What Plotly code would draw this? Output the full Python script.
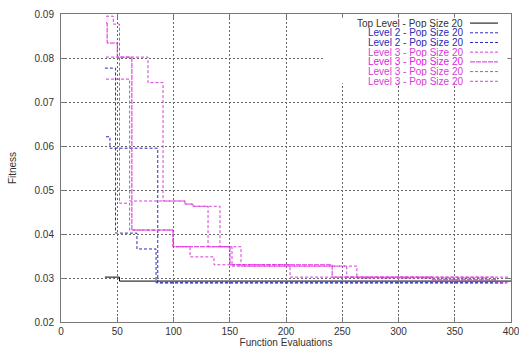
import plotly.graph_objects as go

# ---- data ----
top_x = [39, 52, 400]
top_y = [0.0302, 0.0293, 0.0293]

l2a_x = [40, 43.5, 86, 395]
l2a_y = [0.0621, 0.0595, 0.0289, 0.0289]
l2b_x = [39, 48.5, 67.5, 84.5, 396]
l2b_y = [0.0777, 0.0402, 0.0366, 0.0289, 0.0289]

l3a_x = [40, 46.5, 52, 61, 99.6, 114.7, 136, 203.6, 399]
l3a_y = [0.0895, 0.0877, 0.0470, 0.0409, 0.0371, 0.0348, 0.0330, 0.0302, 0.0302]
l3b_x = [40, 41, 50, 63, 99.6, 150.2, 241, 330, 388]
l3b_y = [0.0880, 0.0834, 0.0802, 0.0409, 0.0371, 0.0330, 0.0302, 0.0296, 0.0296]
l3c_x = [40, 77.3, 90.7, 110.2, 117.3, 130.7, 152, 254, 386, 397]
l3c_y = [0.0802, 0.0744, 0.0475, 0.0468, 0.0463, 0.0371, 0.0327, 0.0302, 0.0289, 0.0289]
l3d_x = [40, 61, 110.2, 117.3, 141.3, 160, 263, 379]
l3d_y = [0.0752, 0.0475, 0.0468, 0.0463, 0.0371, 0.0327, 0.0300, 0.0300]

names = ["Top Level - Pop Size 20", "Level 2 - Pop Size 20", "Level 2 - Pop Size 20",
         "Level 3 - Pop Size 20", "Level 3 - Pop Size 20", "Level 3 - Pop Size 20",
         "Level 3 - Pop Size 20"]

x_ticks = [0, 50, 100, 150, 200, 250, 300, 350, 400]
y_ticks = [0.02, 0.03, 0.04, 0.05, 0.06, 0.07, 0.08, 0.09]

BLACK = "#000000"
BLUE = "#2b2bb8"
MAG = "#d83cd8"

series = [
    (top_x, top_y, BLACK, "solid"),
    (l2a_x, l2a_y, BLUE, "3px,2px"),
    (l2b_x, l2b_y, BLUE, "3px,2px"),
    (l3a_x, l3a_y, MAG, "3px,2px"),
    (l3b_x, l3b_y, "#e020e0", "5px,1px"),
    (l3c_x, l3c_y, MAG, "3px,2px"),
    (l3d_x, l3d_y, MAG, "3px,2px"),
]

fig = go.Figure()
for (xs, ys, col, dash), nm in zip(series, names):
    fig.add_trace(go.Scatter(x=xs, y=ys, mode="lines", name=nm, line_shape="hv",
                             line=dict(color=col, width=1, dash=dash), showlegend=False))

# legend box (gnuplot-style: text right-aligned, sample on the right)
shapes = [dict(type="rect", xref="paper", yref="paper", x0=0.582, x1=0.992,
               y0=0.775, y1=0.988, fillcolor="white", line=dict(width=0), layer="above")]
annotations = []
row_step = 9.7 / 308.0
row_y = [0.9705 - i * row_step for i in range(len(names))]
for (xs, ys, col, dash), nm, ry in zip(series, names, row_y):
    tcol = "#333333" if col == BLACK else col
    annotations.append(dict(text=nm, xref="paper", yref="paper", x=0.895, y=ry,
                            xanchor="right", yanchor="middle", showarrow=False,
                            height=9, borderpad=0,
                            font=dict(family="Liberation Sans, Arial", size=10, color=tcol)))
    shapes.append(dict(type="line", xref="paper", yref="paper", x0=0.909, x1=0.971,
                       y0=ry, y1=ry, layer="above", line=dict(color=col, width=1, dash=dash)))

axis_common = dict(showline=True, linecolor="#777777", linewidth=1, mirror="ticks",
                   ticks="inside", ticklen=5, tickcolor="#777777",
                   showgrid=True, gridcolor="#666666", gridwidth=1, griddash="2px,2px",
                   zeroline=False, ticklabeloverflow="allow", automargin=False,
                   tickfont=dict(family="Liberation Sans, Arial", size=10, color="#333333"),
                   title_font=dict(family="Liberation Sans, Arial", size=10, color="#333333"))

fig.update_layout(
    width=519, height=353,
    margin=dict(l=61, r=8, t=14, b=31),
    plot_bgcolor="white", paper_bgcolor="white",
    shapes=shapes, annotations=annotations,
    xaxis=dict(range=[0, 400], tickvals=x_ticks, title=dict(text="Function Evaluations", standoff=2),
               **axis_common),
    yaxis=dict(range=[0.02, 0.09], tickvals=y_ticks, tickformat=".2f",
               title=dict(text="Fitness", standoff=16), ticklabelstandoff=4, **axis_common),
)

fig.write_html("out.html")
